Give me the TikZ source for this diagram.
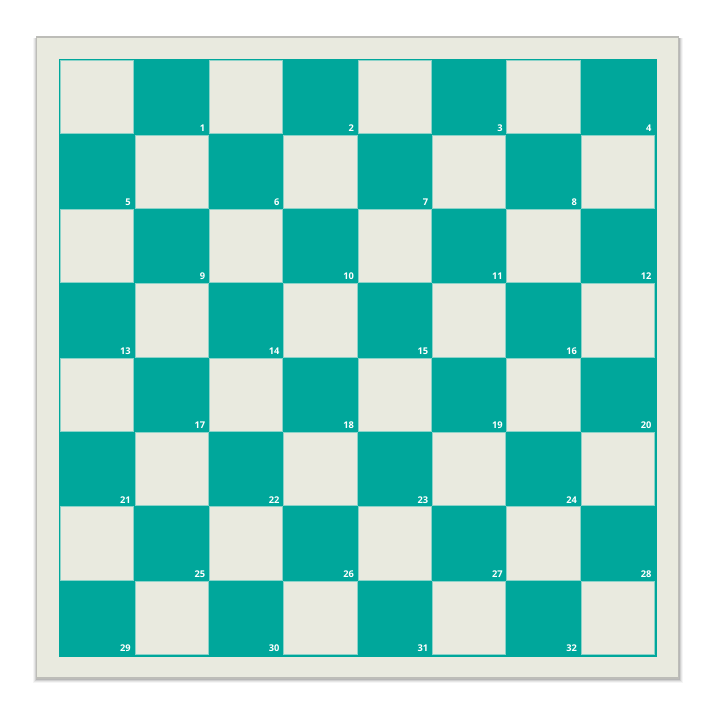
\documentclass[tikz,border=0pt]{standalone}
\usepackage{fontspec}
\setmainfont{Open Sans}
\begin{document}
\begin{tikzpicture}[x=1pt,y=-1pt,
  panel/.style={fill=boardlight, draw=panelgray, line width=1.2pt},
  lightsq/.style={fill=boardlight, draw=gridline, line width=0.8pt},
  numlbl/.style={anchor=base east, inner sep=0pt, text=white, font=\fontsize{9.3}{11}\selectfont\bfseries}]
\definecolor{boardlight}{HTML}{E9EADF}
\definecolor{teal}{HTML}{00A79B}
\definecolor{gridline}{HTML}{8CD3C9}
\definecolor{panelgray}{HTML}{BDBDB8}
\useasboundingbox (0,0) rectangle (715,715);
\fill[white] (0,0) rectangle (715,715);
% shadow
\foreach \s/\o in {4/0.04,3/0.06,2/0.09,1/0.12}{
  \fill[black, opacity=\o] (36.5-\s,37.5) rectangle (678.5+\s,678.5+\s);
}
\node[panel, minimum width=642pt, minimum height=641pt, inner sep=0pt] (panel) at (357.5,357.5) {};
\node[fill=teal, minimum width=598pt, minimum height=598pt, inner sep=0pt] (board) at (357.5,357.5) {};
\pgfmathsetmacro{\sq}{74.375}
\foreach \r in {0,...,7}{
  \foreach \c in {0,...,7}{
    \pgfmathtruncatemacro{\parity}{mod(\r+\c,2)}
    \ifnum\parity=0
      \node[lightsq, minimum width=73.2pt, minimum height=73.2pt, inner sep=0pt] (sq-\r-\c) at ({60+\sq*(\c+0.5)},{60+\sq*(\r+0.5)}) {};
    \else
      \pgfmathtruncatemacro{\n}{\r*4+int(\c/2)+1}
      \node[numlbl] (num-\n) at ({60+\sq*(\c+1)-3.4},{60+\sq*(\r+1)-3.2}) {\n};
    \fi
  }
}
\end{tikzpicture}
\end{document}
